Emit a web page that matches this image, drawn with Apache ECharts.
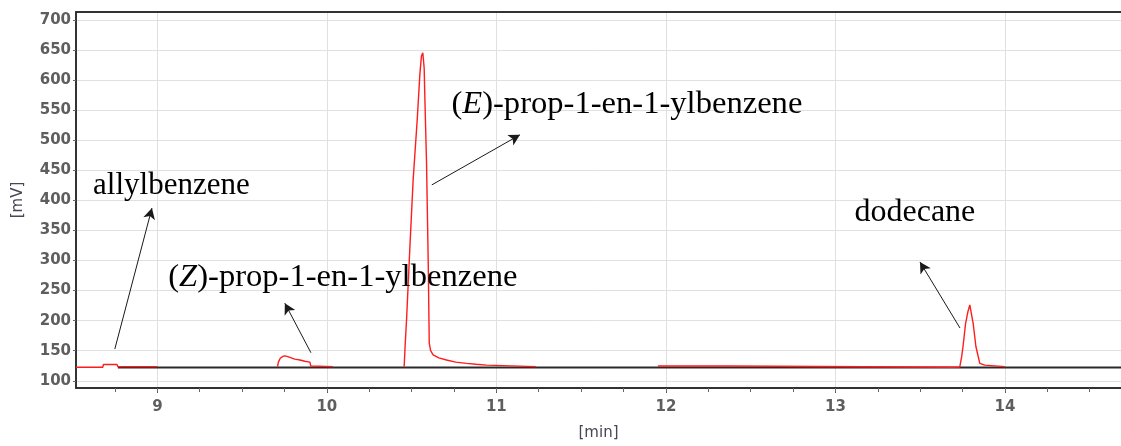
<!DOCTYPE html>
<html>
<head>
<meta charset="utf-8">
<script src="https://cdn.jsdelivr.net/npm/echarts@6/dist/echarts.min.js"></script>
<style>
  html, body { margin: 0; padding: 0; background: #ffffff; }
  #chart { width: 1121px; height: 446px; }
</style>
</head>
<body>
<div id="chart"></div>
<script>
// Detector trace: retention time (min) and signal (mV); null marks a break between recorded windows.
const traceTime = [
  8.52, 8.678, 8.682, 8.762, 8.767, 9.0, null,
  9.709, 9.714, 9.725, 9.74, 9.752, 9.765, 9.782, 9.81, 9.841, 9.87, 9.9, 9.905, 10.035, null,
  10.456, 10.462, 10.47, 10.49, 10.509, 10.533, 10.549, 10.558, 10.566, 10.574, 10.578, 10.588,
  10.598, 10.604, 10.612, 10.627, 10.66, 10.706, 10.76, 10.824, 10.88, 10.942, 10.95, 11.233, null,
  11.953, 12.366, 12.37, 13.693, 13.734, 13.745, 13.753, 13.768, 13.782, 13.793, 13.8,
  13.813, 13.829, 13.852, 13.881, 13.89, 14.0
];
const traceSignal = [
  122.5, 122.5, 127, 127, 123.5, 123.5, null,
  123.5, 131, 137.5, 140.5, 141.5, 140.5, 139, 136, 134.5, 132.5, 131, 124.5, 123.5, null,
  123.5, 160, 201, 323, 434, 534, 611, 640, 645, 620, 572, 462,
  296, 162.5, 150, 143, 138, 134.5, 131, 129, 127.5, 126, 123.5, 123.5, null,
  124.5, 124.5, 122.5, 122.5, 123, 140, 157, 195, 215, 226, 224,
  195, 157, 129, 126, 123.5, 123.5
];

// Reference baseline under the peaks
const baselineTime = [8.767, 14.685];
const baselineSignal = [122, 122];

// Axis ticks
const xTicks = [9, 10, 11, 12, 13, 14];
const xMinorTicks = [8.75, 9, 9.25, 9.5, 9.75, 10, 10.25, 10.5, 10.75, 11, 11.25, 11.5, 11.75,
  12, 12.25, 12.5, 12.75, 13, 13.25, 13.5, 13.75, 14, 14.25, 14.5];
const yTicks = [100, 150, 200, 250, 300, 350, 400, 450, 500, 550, 600, 650, 700];

// Compound names shown beside the peaks
const compoundNames = ['allylbenzene', '(Z)-prop-1-en-1-ylbenzene', '(E)-prop-1-en-1-ylbenzene', 'dodecane'];

const X_MIN = 8.52, X_MAX = 14.685, Y_MIN = 88, Y_MAX = 713;

const traceData = traceTime.map((t, i) => (t === null ? '-' : [t, traceSignal[i]]));
const baselineData = baselineTime.map((t, i) => [t, baselineSignal[i]]);

// Rich-text: the stereo descriptor letter is set in italics
function richName(name) {
  const m = name.match(/^\((\w)\)(.*)$/);
  if (!m) return '{r|' + name + '}';
  return '{r|(}{i|' + m[1] + '}{r|)' + m[2] + '}';
}
const serif = 'Liberation Serif';
const nameFontSizes = [31, 32.6, 32.6, 32];
function richStyles(size) {
  return {
    r: { fontFamily: serif, fontSize: size, color: '#000' },
    i: { fontFamily: serif, fontSize: size, fontStyle: 'italic', color: '#000' }
  };
}

// Label anchors (time, mV) and arrows pointing from each peak toward its name
const labelAnchors = [[9.083, 424], [10.094, 271], [11.77, 560], [13.469, 379]];
const arrowLines = [
  [[8.749, 152.7], [8.968, 387]],
  [[9.906, 146.6], [9.752, 229]],
  [[10.619, 425.6], [11.139, 508.8]],
  [[13.735, 187.7], [13.499, 297.5]]
];

const axisText = { fontFamily: 'DejaVu Sans', fontWeight: 'bold', fontSize: 15, color: '#5e5e5e' };

const chart = echarts.init(document.getElementById('chart'), null, { renderer: 'canvas' });
chart.setOption({
  animation: false,
  backgroundColor: '#ffffff',
  grid: { left: 76, right: 0, top: 12, bottom: 58 },
  xAxis: [
    {
      type: 'value', min: X_MIN, max: X_MAX, position: 'bottom',
      axisLine: { show: true, onZero: false, lineStyle: { color: '#333333', width: 2 } },
      axisTick: { show: true, customValues: xTicks, length: 5, lineStyle: { color: '#555555' } },
      axisLabel: Object.assign({ customValues: xTicks, margin: 12 }, axisText),
      splitLine: { show: true, lineStyle: { color: '#e0e0e0', width: 1 } },
      name: '[min]', nameLocation: 'middle', nameGap: 38,
      nameTextStyle: { fontFamily: 'DejaVu Sans', fontSize: 15, color: '#4a4556' }
    },
    {
      type: 'value', min: X_MIN, max: X_MAX, position: 'bottom',
      axisLine: { show: false, onZero: false },
      axisTick: { show: true, customValues: xMinorTicks, length: 4, lineStyle: { color: '#666666' } },
      axisLabel: { show: false },
      splitLine: { show: false }
    },
    {
      type: 'value', min: X_MIN, max: X_MAX, position: 'top',
      axisLine: { show: true, onZero: false, lineStyle: { color: '#333333', width: 2 } },
      axisTick: { show: false },
      axisLabel: { show: false },
      splitLine: { show: false }
    }
  ],
  yAxis: {
    type: 'value', min: Y_MIN, max: Y_MAX,
    axisLine: { show: true, onZero: false, lineStyle: { color: '#333333', width: 2 } },
    axisTick: { show: true, customValues: yTicks, length: 3, lineStyle: { color: '#666666' } },
    axisLabel: Object.assign({ customValues: yTicks, margin: 5 }, axisText),
    splitLine: { show: true, lineStyle: { color: '#e0e0e0', width: 1 } },
    name: '[mV]', nameLocation: 'middle', nameGap: 50, nameRotate: 90,
    nameTextStyle: { fontFamily: 'DejaVu Sans', fontSize: 15, color: '#4a4556' }
  },
  series: [
    {
      name: 'baseline', type: 'line', xAxisIndex: 0, data: baselineData,
      symbol: 'none', silent: true, z: 2,
      lineStyle: { color: '#2a2a2a', width: 2 },
      markLine: {
        silent: true, animation: false, symbolSize: [9, 11],
        label: { show: false },
        lineStyle: { color: '#1a1a1a', width: 1, type: 'solid' },
        emphasis: { disabled: true },
        data: arrowLines.map(([a, b]) => [
          { coord: a, symbol: 'none' },
          { coord: b, symbol: 'arrow' }
        ])
      }
    },
    {
      name: 'signal', type: 'line', xAxisIndex: 0, data: traceData,
      symbol: 'none', silent: true, z: 3, connectNulls: false,
      lineStyle: { color: '#ff1c1c', width: 1.4 },
      markPoint: {
        silent: true, animation: false, symbol: 'circle', symbolSize: 0,
        itemStyle: { color: 'transparent' },
        data: compoundNames.map((n, i) => ({
          coord: labelAnchors[i],
          label: {
            show: true, position: 'inside', align: 'center', verticalAlign: 'middle',
            formatter: richName(n), rich: richStyles(nameFontSizes[i])
          }
        }))
      }
    }
  ]
});
</script>
</body>
</html>
